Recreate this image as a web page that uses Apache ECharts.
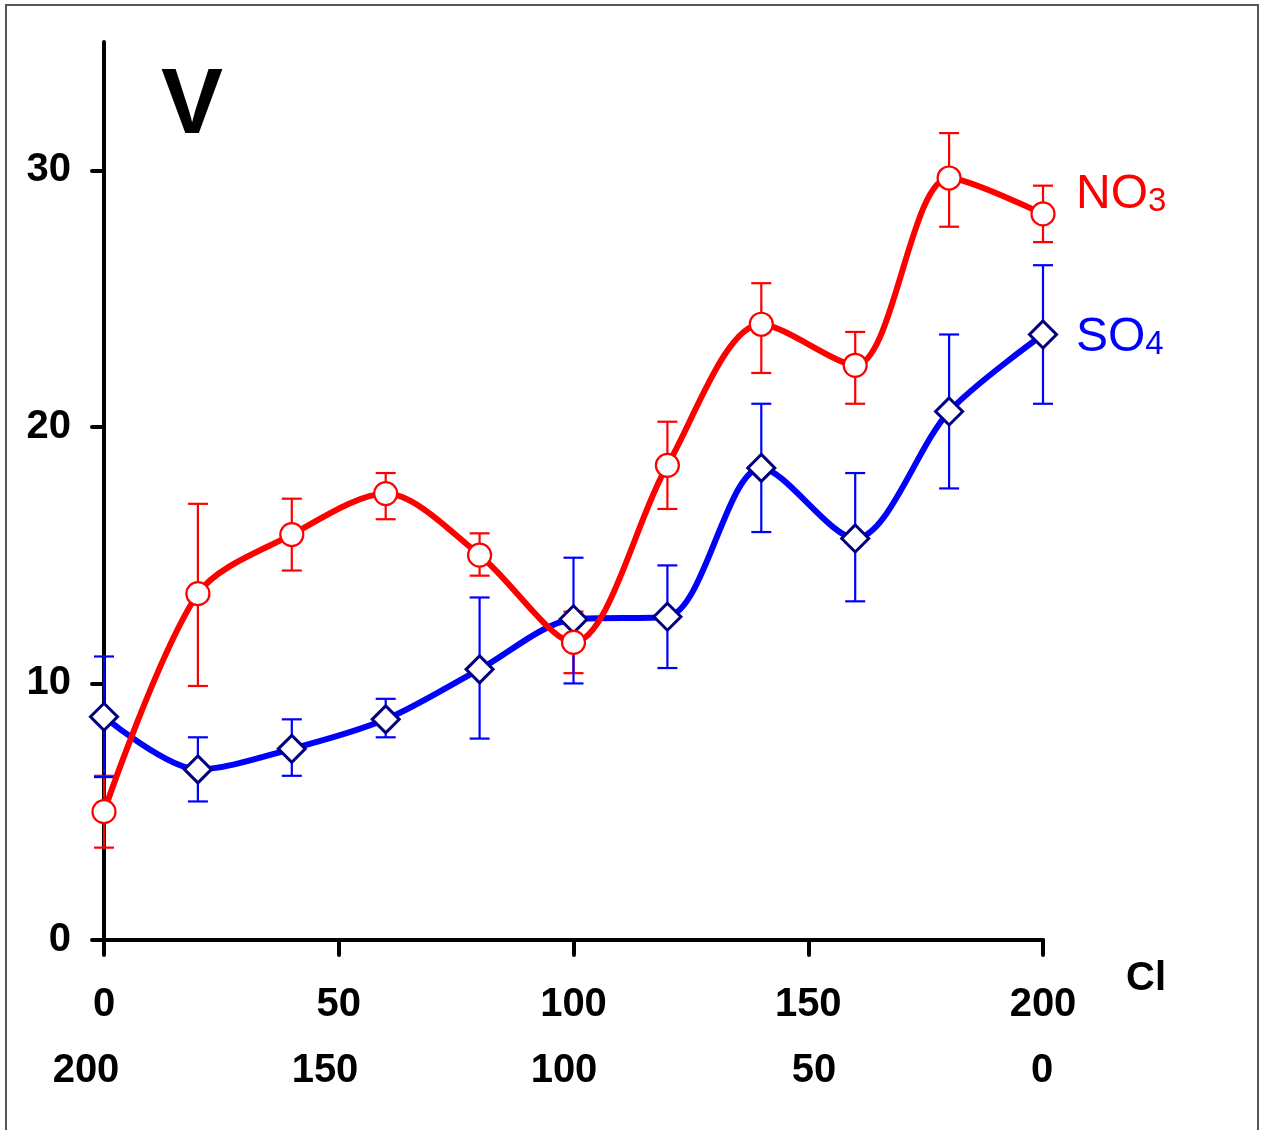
<!DOCTYPE html>
<html>
<head>
<meta charset="utf-8">
<script src="https://cdn.jsdelivr.net/npm/echarts@6/dist/echarts.min.js"></script>
<style>
html,body{margin:0;padding:0;background:#fff;}
#chart{width:1263px;height:1130px;}
</style>
</head>
<body>
<div id="chart"></div>
<script>
// Cl concentration (top axis), and complementary concentration (bottom row)
const clValues = [0, 20, 40, 60, 80, 100, 120, 140, 160, 180, 200];
const topTicks = [0, 50, 100, 150, 200];
const yTicks = [0, 10, 20, 30];

// NO3 series: mean, lower and upper error limits
const no3Mean = [5.0, 13.5, 15.8, 17.4, 15.0, 11.6, 18.5, 24.0, 22.4, 29.7, 28.3];
const no3Low  = [3.6, 9.9, 14.4, 16.4, 14.2, 10.4, 16.8, 22.1, 20.9, 27.8, 27.2];
const no3High = [6.4, 17.0, 17.2, 18.2, 15.85, 12.8, 20.2, 25.6, 23.7, 31.45, 29.4];

// SO4 series: mean, lower and upper error limits
const so4Mean = [8.7, 6.65, 7.45, 8.6, 10.55, 12.5, 12.6, 18.4, 15.65, 20.6, 23.6];
const so4Low  = [6.35, 5.4, 6.4, 7.9, 7.85, 10.0, 10.6, 15.9, 13.2, 17.6, 20.9];
const so4High = [11.05, 7.9, 8.6, 9.4, 13.35, 14.9, 14.6, 20.9, 18.2, 23.6, 26.3];

const RED = '#ff0000', BLUE = '#0000ff', NAVY = '#000080';
const FONT = '"Liberation Sans", Arial, sans-serif';

function pairs(xs, ys) { return xs.map((x, i) => [x, ys[i]]); }
function errs(xs, lo, hi) { return xs.map((x, i) => [x, lo[i], hi[i]]); }

function errorRender(color) {
  return function (params, api) {
    const x = api.value(0);
    const lo = api.coord([x, api.value(1)]);
    const hi = api.coord([x, api.value(2)]);
    const hw = 10;
    const st = { stroke: color, lineWidth: 2.2 };
    return {
      type: 'group',
      children: [
        { type: 'line', shape: { x1: lo[0], y1: lo[1], x2: hi[0], y2: hi[1] }, style: st },
        { type: 'line', shape: { x1: lo[0] - hw, y1: lo[1], x2: lo[0] + hw, y2: lo[1] }, style: st },
        { type: 'line', shape: { x1: hi[0] - hw, y1: hi[1], x2: hi[0] + hw, y2: hi[1] }, style: st }
      ]
    };
  };
}

const chart = echarts.init(document.getElementById('chart'), null, { renderer: 'canvas' });
chart.setOption({
  animation: false,
  backgroundColor: '#fff',
  grid: [
    { left: 104, top: 42, width: 939, height: 898 },
    { left: 86, top: 42, width: 956, height: 898 }
  ],
  xAxis: [
    {
      type: 'value', gridIndex: 0, min: 0, max: 200, interval: 50,
      axisLine: { show: true, lineStyle: { color: '#000', width: 4, cap: 'round' } },
      axisTick: { show: true, length: 15, lineStyle: { color: '#000', width: 4, cap: 'round' } },
      axisLabel: { show: true, margin: 45, fontFamily: FONT, fontWeight: 'bold', fontSize: 40, color: '#000',
                   customValues: topTicks },
      splitLine: { show: false }
    },
    {
      type: 'value', gridIndex: 1, min: 0, max: 200, interval: 50, inverse: true,
      axisLine: { show: false }, axisTick: { show: false },
      axisLabel: { show: true, margin: 111, fontFamily: FONT, fontWeight: 'bold', fontSize: 40, color: '#000',
        formatter: function (v) { return v === 50 ? '{r|' + v + '}' : String(v); },
        rich: { r: { fontFamily: FONT, fontWeight: 'bold', fontSize: 40, color: '#000', padding: [0, 0, 0, 22] } } },
      splitLine: { show: false }
    }
  ],
  yAxis: [
    {
      type: 'value', gridIndex: 0, min: 0, max: 35, interval: 10,
      axisLine: { show: true, lineStyle: { color: '#000', width: 4, cap: 'round' } },
      axisTick: { show: true, length: 12, customValues: yTicks, lineStyle: { color: '#000', width: 4, cap: 'round' } },
      axisLabel: { show: true, margin: 33, customValues: yTicks, fontFamily: FONT, fontWeight: 'bold', fontSize: 40, color: '#000',
                   padding: [10, 0, 0, 0] },
      splitLine: { show: false }
    },
    { type: 'value', gridIndex: 1, min: 0, max: 35, show: false }
  ],
  series: [
    {
      name: 'NO3 err', type: 'custom', xAxisIndex: 0, yAxisIndex: 0, z: 1,
      renderItem: errorRender(RED), data: errs(clValues, no3Low, no3High)
    },
    {
      name: 'SO4 err', type: 'custom', xAxisIndex: 0, yAxisIndex: 0, z: 1,
      renderItem: errorRender(BLUE), data: errs(clValues, so4Low, so4High)
    },
    {
      name: 'SO4', type: 'line', z: 3, smooth: 0.3,
      data: pairs(clValues, so4Mean),
      lineStyle: { color: BLUE, width: 6 },
      symbol: 'diamond', symbolSize: 27, showAllSymbol: true,
      itemStyle: { color: '#fff', borderColor: NAVY, borderWidth: 3 }
    },
    {
      name: 'NO3', type: 'line', z: 4, smooth: 0.3,
      data: pairs(clValues, no3Mean),
      lineStyle: { color: RED, width: 6 },
      symbol: 'circle', symbolSize: 23, showAllSymbol: true,
      itemStyle: { color: '#fff', borderColor: RED, borderWidth: 2.2 }
    }
  ],
  graphic: [
    { type: 'rect', z: 100, silent: true,
      shape: { x: 6, y: 5, width: 1252, height: 1140 },
      style: { fill: 'none', stroke: '#555', lineWidth: 2 } },
    { type: 'text', left: 161, top: 61, z: 100,
      style: { text: 'V', fontFamily: FONT, fontWeight: 'bold', fontSize: 93, fill: '#000' } },
    { type: 'text', left: 1126, top: 959, z: 100,
      style: { text: 'Cl', fontFamily: FONT, fontWeight: 'bold', fontSize: 40, fill: '#000' } },
    { type: 'text', left: 1076, top: 171, z: 100,
      style: { text: 'NO{s|3}', fontFamily: FONT, fontSize: 48, fill: RED,
               rich: { s: { fontFamily: FONT, fontSize: 33, fill: RED, color: RED, padding: [13, 0, 0, 0] } } } },
    { type: 'text', left: 1076, top: 314, z: 100,
      style: { text: 'SO{s|4}', fontFamily: FONT, fontSize: 48, fill: BLUE,
               rich: { s: { fontFamily: FONT, fontSize: 33, fill: BLUE, color: BLUE, padding: [13, 0, 0, 0] } } } }
  ]
});
</script>
</body>
</html>
